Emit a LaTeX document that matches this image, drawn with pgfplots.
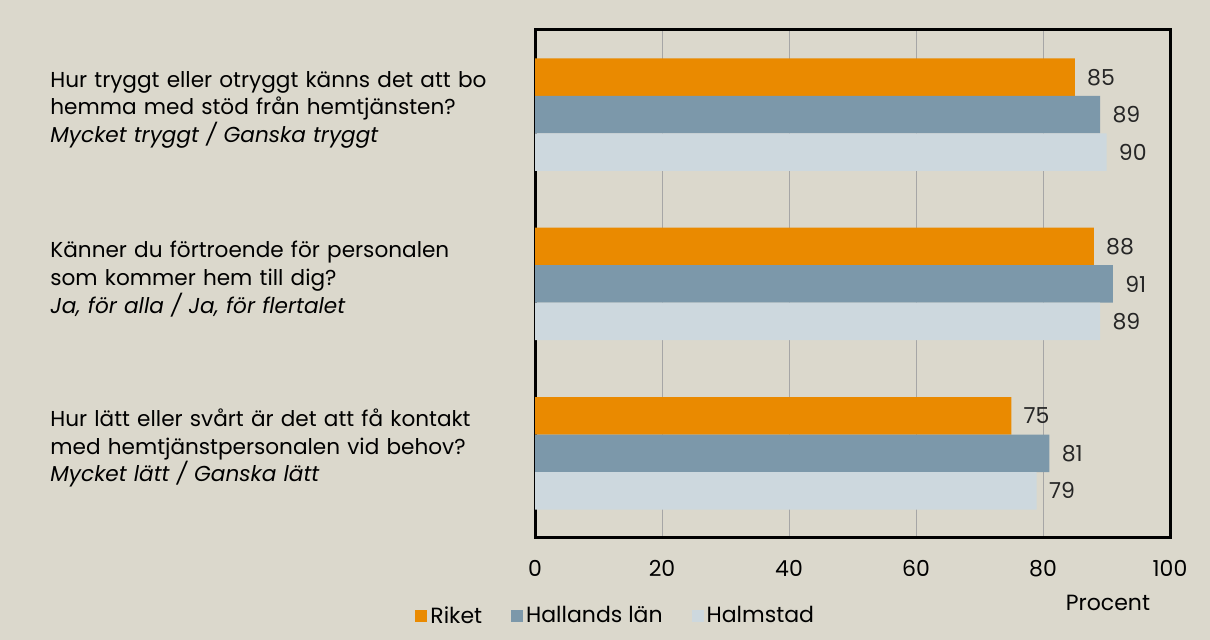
\documentclass[border=0pt]{standalone}
\usepackage{fontspec}
\setmainfont{Poppins}
\usepackage{pgfplots}
\pgfplotsset{compat=1.18}

\definecolor{bgbeige}{HTML}{DBD8CC}
\definecolor{riket}{HTML}{EA8A00}
\definecolor{halland}{HTML}{7C98AA}
\definecolor{halmstad}{HTML}{CDD8DE}

\begin{document}
\begin{tikzpicture}
\fill[bgbeige] (0,0) rectangle (605pt,320pt);
\begin{axis}[
  at={(267.5pt,51pt)}, anchor=south west,
  scale only axis, width=317.5pt, height=254pt,
  xbar, bar width=18.75pt,
  y dir=reverse,
  xmin=0, xmax=100, ymin=-0.5, ymax=2.5,
  xtick={0,20,40,60,80,100}, ytick={0,1,2},
  major tick length=0pt,
  xmajorgrids, grid style={gray!70, line width=0.5pt},
  axis line style={black, line width=1.5pt},
  /pgf/number format/assume math mode=true,
  xticklabel style={font=\fontsize{11}{13}\selectfont, inner sep=0pt, yshift=-11pt},
  yticklabels={
    {Hur tryggt eller otryggt känns det att bo\\hemma med stöd från hemtjänsten?\\\textit{Mycket tryggt / Ganska tryggt}},
    {Känner du förtroende för personalen\\som kommer hem till dig?\\\textit{Ja, för alla / Ja, för flertalet}},
    {Hur lätt eller svårt är det att få kontakt\\med hemtjänstpersonalen vid behov?\\\textit{Mycket lätt / Ganska lätt}}},
  yticklabel style={anchor=west, align=left, text width=235pt, inner sep=0pt,
    xshift=-242.5pt, yshift=2.5pt, font=\fontsize{10.8}{13.8}\selectfont},
  nodes near coords,
  every node near coord/.append style={anchor=west, inner sep=0pt, xshift=6pt,
    font=\fontsize{11}{13}\selectfont, text=black!85},
  legend style={at={(-0.189,-0.154)}, anchor=west, draw=none, fill=none,
    inner xsep=0pt, inner ysep=0pt, legend columns=3,
    font=\fontsize{11}{13}\selectfont,
    nodes={inner xsep=1.5pt}},
  legend cell align=left,
  /tikz/every even column/.append style={column sep=13pt},
  legend image code/.code={\fill[#1] (0pt,-3pt) rectangle (6pt,3pt);},
]
\addplot[fill=riket, draw=none, bar shift=18.75pt] coordinates {(85,0) (88,1) (75,2)};
\addplot[fill=halland, draw=none, bar shift=0pt] coordinates {(89,0) (91,1) (81,2)};
\addplot[fill=halmstad, draw=none, bar shift=-18.75pt] coordinates {(90,0) (89,1) (79,2)};
\legend{Riket, Hallands län, Halmstad}
\end{axis}
\node[font=\fontsize{11}{13}\selectfont] at (554pt,18.5pt) {Procent};
\end{tikzpicture}
\end{document}
